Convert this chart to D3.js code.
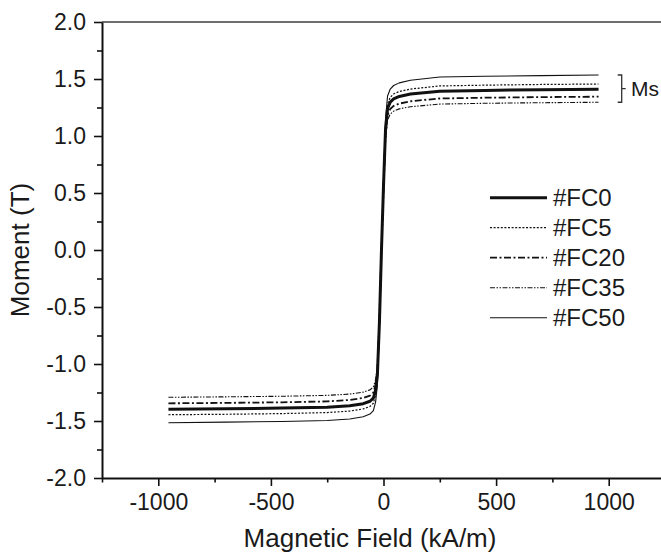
<!DOCTYPE html>
<html>
<head>
<meta charset="utf-8">
<script src="https://cdn.jsdelivr.net/npm/d3@7"></script>
<style>
  body { margin: 0; background: #fff; }
  svg { display: block; font-family: "Liberation Sans", Arial, sans-serif; }
</style>
</head>
<body>
<div id="chart"></div>
<script>
// field values (kA/m), shared by all series
const field = [-955, -700, -450, -250, -150, -90, -60, -45, -35, -27, -18, -9, 0, 9, 18, 30, 45, 70, 120, 250, 450, 700, 955];

// moment (T) per sample
const fc0  = [-1.397, -1.393, -1.387, -1.379, -1.366, -1.348, -1.327, -1.299, -1.229, -1.090, -0.629, 0, 0.564, 1.058, 1.241, 1.297, 1.325, 1.347, 1.368, 1.393, 1.400, 1.406, 1.410];
const fc5  = [-1.445, -1.441, -1.435, -1.426, -1.413, -1.394, -1.373, -1.344, -1.272, -1.127, -0.650, 0, 0.582, 1.092, 1.281, 1.340, 1.369, 1.390, 1.412, 1.439, 1.446, 1.452, 1.456];
const fc20 = [-1.345, -1.341, -1.336, -1.328, -1.315, -1.298, -1.278, -1.251, -1.184, -1.049, -0.605, 0, 0.538, 1.009, 1.184, 1.237, 1.264, 1.284, 1.305, 1.329, 1.336, 1.341, 1.345];
const fc35 = [-1.292, -1.288, -1.283, -1.275, -1.264, -1.247, -1.227, -1.202, -1.137, -1.008, -0.581, 0, 0.518, 0.972, 1.140, 1.192, 1.218, 1.238, 1.257, 1.280, 1.287, 1.292, 1.296];
const fc50 = [-1.515, -1.510, -1.504, -1.495, -1.482, -1.462, -1.439, -1.409, -1.333, -1.182, -0.682, 0, 0.614, 1.151, 1.351, 1.412, 1.443, 1.466, 1.489, 1.517, 1.524, 1.530, 1.535];

const seriesNames = ["#FC0", "#FC5", "#FC20", "#FC35", "#FC50"];
const seriesValues = [fc0, fc5, fc20, fc35, fc50];

const xMajor = [-1000, -500, 0, 500, 1000];
const xMinor = [-1250, -750, -250, 250, 750, 1250];
const yMajor = [-2.0, -1.5, -1.0, -0.5, 0.0, 0.5, 1.0, 1.5, 2.0];
const yMinor = [-1.75, -1.25, -0.75, -0.25, 0.25, 0.75, 1.25, 1.75];

const width = 661;
const height = 556;
const margin = { left: 102, top: 22, bottom: 478, right: 665 };

const lineStyles = {
    "#FC0":  { w: 3,   dash: null },
    "#FC5":  { w: 1.2, dash: "2,1.6" },
    "#FC20": { w: 1.8, dash: "7,2.5,2,2.5" },
    "#FC35": { w: 1.1, dash: "5,1.5,1.5,1.5,1.5,1.5" },
    "#FC50": { w: 1.1, dash: null }
};

const xScale = d3.scaleLinear().domain([-1250, 1250]).range([margin.left, margin.right]);
const yScale = d3.scaleLinear().domain([-2, 2]).range([margin.bottom, margin.top]);

const svg = d3.select("#chart").append("svg")
    .attr("width", width)
    .attr("height", height);

// top border (grey)
svg.append("line")
    .attr("x1", margin.left).attr("x2", margin.right)
    .attr("y1", yScale(2)).attr("y2", yScale(2))
    .attr("stroke", "#6e6e6e").attr("stroke-width", 1.8);

const line = d3.line()
    .x((d, i) => xScale(field[i]))
    .y(d => yScale(d));

seriesNames.forEach((name, k) => {
    const st = lineStyles[name];
    svg.append("path").datum(seriesValues[k])
        .attr("fill", "none")
        .attr("stroke", "#111")
        .attr("stroke-width", st.w)
        .attr("stroke-dasharray", st.dash)
        .attr("stroke-linejoin", "round")
        .attr("d", line);
});

// axes
const xAxis = svg.append("g")
    .attr("transform", "translate(0," + margin.bottom + ")")
    .call(d3.axisBottom(xScale).tickValues(xMajor).tickSize(8).tickSizeOuter(0).tickPadding(8)
        .tickFormat(d3.format("d")));
svg.append("g")
    .attr("transform", "translate(0," + margin.bottom + ")")
    .call(d3.axisBottom(xScale).tickValues(xMinor).tickSize(4.5).tickFormat(""))
    .call(g => g.select(".domain").remove());

const yAxis = svg.append("g")
    .attr("transform", "translate(" + margin.left + ",0)")
    .call(d3.axisLeft(yScale).tickValues(yMajor).tickSize(8).tickSizeOuter(0).tickPadding(8)
        .tickFormat(d3.format(".1f")));
svg.append("g")
    .attr("transform", "translate(" + margin.left + ",0)")
    .call(d3.axisLeft(yScale).tickValues(yMinor).tickSize(5).tickFormat(""))
    .call(g => g.select(".domain").remove());

svg.selectAll(".domain").attr("stroke", "#111").attr("stroke-width", 2);
svg.selectAll(".tick line").attr("stroke", "#111").attr("stroke-width", 1.6);
svg.selectAll(".tick text")
    .attr("font-family", "Liberation Sans, Arial, sans-serif")
    .attr("font-size", 23)
    .attr("fill", "#1a1a1a");
yAxis.selectAll(".tick text").text(d => d3.format(".1f")(d).replace("\u2212", "-"));
xAxis.selectAll(".tick text").text(d => String(d));

// axis titles
svg.append("text")
    .attr("x", 370).attr("y", 547)
    .attr("text-anchor", "middle")
    .attr("font-size", 26)
    .attr("fill", "#1a1a1a")
    .text("Magnetic Field (kA/m)");

svg.append("text")
    .attr("transform", "translate(29,250) rotate(-90)")
    .attr("text-anchor", "middle")
    .attr("font-size", 26)
    .attr("fill", "#1a1a1a")
    .text("Moment (T)");

// legend
const legend = svg.append("g");
seriesNames.forEach((name, k) => {
    const st = lineStyles[name];
    const yy = 197.7 + k * 30;
    legend.append("line")
        .attr("x1", 490).attr("x2", 547)
        .attr("y1", yy).attr("y2", yy)
        .attr("stroke", "#111")
        .attr("stroke-width", st.w)
        .attr("stroke-dasharray", st.dash);
    legend.append("text")
        .attr("x", 553).attr("y", yy + 8)
        .attr("font-size", 24)
        .attr("fill", "#1a1a1a")
        .text(name);
});

// Ms bracket
const msTop = yScale(d3.max(fc50));
const msBot = yScale(d3.max(fc35));
const bx = 621.7;
svg.append("path")
    .attr("d", "M" + (bx - 4) + "," + msTop + "H" + bx + "V" + msBot + "H" + (bx - 4)
        + "M" + bx + "," + ((msTop + msBot) / 2) + "H" + (bx + 4))
    .attr("fill", "none")
    .attr("stroke", "#333")
    .attr("stroke-width", 1.3);
svg.append("text")
    .attr("x", 631).attr("y", (msTop + msBot) / 2 + 7.5)
    .attr("font-size", 21)
    .attr("fill", "#1a1a1a")
    .text("Ms");
</script>
</body>
</html>
